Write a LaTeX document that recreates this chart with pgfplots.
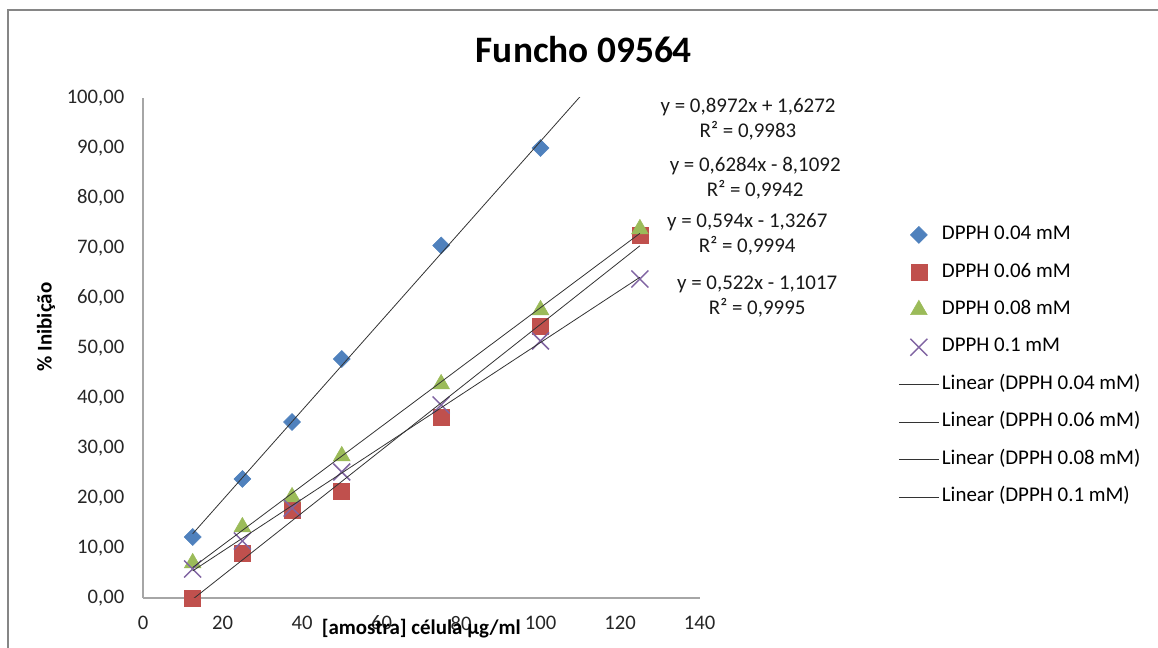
\documentclass[border=0pt]{standalone}
\usepackage{fontspec}
\setmainfont{Carlito}
\usepackage{pgfplots}
\pgfplotsset{compat=1.18}

\definecolor{xlblue}{HTML}{4F81BD}
\definecolor{xlred}{HTML}{C0504D}
\definecolor{xlgreen}{HTML}{9BBB59}
\definecolor{xlpurple}{HTML}{8064A2}
\definecolor{framegray}{HTML}{868686}
\definecolor{axisgray}{HTML}{A6A6A6}

% 1 px of the reference = 0.75pt
\newcommand{\txt}{\fontsize{15.7}{18.75}\selectfont}
\newcommand{\tck}{\fontsize{15.5}{18.75}\selectfont}

\begin{document}
\begin{tikzpicture}
\begin{axis}[
    at={(0,0)}, anchor=origin,
    scale only axis,
    width=417.4pt, height=375pt,
    xmin=0, xmax=140, ymin=0, ymax=100,
    axis x line=bottom, axis y line=left,
    axis line style={draw=axisgray, line width=0.8pt, -},
    xtick={0,20,...,140},
    ytick={0,10,...,100},
    major tick length=0pt,
    clip mode=individual,
    /pgf/number format/assume math mode=true,
    tick label style={font=\tck, text=black!85},
    xticklabel style={anchor=north, yshift=-10pt,
        /pgf/number format/.cd, fixed, precision=0},
    yticklabel style={anchor=east, xshift=-10.5pt,
        /pgf/number format/.cd, fixed, fixed zerofill, precision=2, use comma},
    legend image code/.code={
        \draw[mark repeat=2, mark phase=2, #1]
            plot coordinates {(0pt,0pt) (15pt,0pt) (30pt,0pt)};},
    legend cell align=left,
    legend style={draw=none, fill=none, font=\txt,
        at={(1.357,0.752)}, anchor=north west,
        row sep=9.1pt, inner sep=0pt,
        nodes={text height=11pt, text depth=4pt, inner sep=2pt}},
]
% measured points
\addplot[only marks, mark=square*, mark size=4.5pt,
    mark options={rotate=45, draw=xlblue, fill=xlblue}] coordinates {
    (12.5,12.2) (25,23.8) (37.5,35.2) (50,47.8) (75,70.5) (100,90.0)
};
\addlegendentry{DPPH 0.04 mM}
\addplot[only marks, mark=square*, mark size=6pt,
    mark options={draw=xlred, fill=xlred}] coordinates {
    (12.5,0.0) (25,9.0) (37.5,17.6) (50,21.3) (75,36.2) (100,54.4) (125,72.6)
};
\addlegendentry{DPPH 0.06 mM}
\addplot[only marks, mark=triangle*, mark size=7.2pt,
    mark options={draw=xlgreen, fill=xlgreen}] coordinates {
    (12.5,7.0) (25,14.2) (37.5,20.2) (50,28.4) (75,42.8) (100,57.6) (125,73.8)
};
\addlegendentry{DPPH 0.08 mM}
\addplot[only marks, mark=x, mark size=9pt,
    mark options={draw=xlpurple, line width=1.1pt}] coordinates {
    (12.5,5.8) (25,11.4) (37.5,18.0) (50,25.2) (75,38.6) (100,51.4) (125,63.8)
};
\addlegendentry{DPPH 0.1 mM}

% linear trendlines, end points from the printed equations
\addplot[black!80, line width=0.6pt, no marks] coordinates {(12.5,12.842) (125,113.777)};
\addlegendentry{Linear (DPPH 0.04 mM)}
\addplot[black!80, line width=0.6pt, no marks] coordinates {(12.5,-0.254) (125,70.441)};
\addlegendentry{Linear (DPPH 0.06 mM)}
\addplot[black!80, line width=0.6pt, no marks] coordinates {(12.5,6.098) (125,72.923)};
\addlegendentry{Linear (DPPH 0.08 mM)}
\addplot[black!80, line width=0.6pt, no marks] coordinates {(12.5,5.423) (125,64.148)};
\addlegendentry{Linear (DPPH 0.1 mM)}

% equation labels
\node[align=center, font=\txt, text=black!90] at (axis cs:152.2,95.7) {y = 0,8972x + 1,6272\\R² = 0,9983};
\node[align=center, font=\txt, text=black!90] at (axis cs:154.0,84.0) {y = 0,6284x - 8,1092\\R² = 0,9942};
\node[align=center, font=\txt, text=black!90] at (axis cs:152.0,72.8) {y = 0,594x - 1,3267\\R² = 0,9994};
\node[align=center, font=\txt, text=black!90] at (axis cs:154.5,60.2) {y = 0,522x - 1,1017\\R² = 0,9995};

% titles
\node[font=\fontsize{28}{32}\selectfont\bfseries] at (axis cs:110.9,109.6) {Funcho 09564};
\node[font=\txt\bfseries, anchor=base] at (axis cs:70,-7.4) {[amostra] célula µg/ml};
\node[font=\txt\bfseries, rotate=90] at (rel axis cs:-0.1743,0.542) {\% Inibição};
\end{axis}
\pgfresetboundingbox
\path[use as bounding box] (-107.25pt,-37.5pt) rectangle (761.25pt,448.5pt);
\draw[framegray, line width=1.5pt] (-101.6pt,441pt) rectangle (800pt,-60pt);
\end{tikzpicture}
\end{document}
